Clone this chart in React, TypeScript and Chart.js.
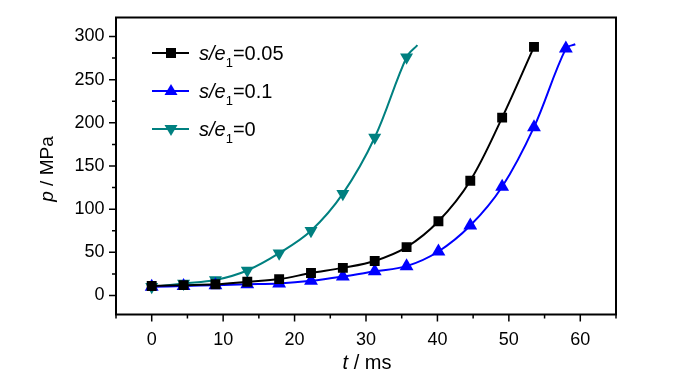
import React, { useEffect, useRef } from 'react';
import { Chart, registerables } from 'chart.js';

Chart.register(...registerables);

// ---- data ----
const timeMs = [0, 4.46, 8.92, 13.38, 17.84, 22.3, 26.76, 31.22, 35.68, 40.14, 44.6, 49.06, 53.52, 57.98];
const pBlack = [11, 12, 13, 16, 19, 26, 32, 40, 56, 86, 133, 206, 288];
const pBlue = [10, 11, 12, 13, 14, 17, 22, 28, 34, 51, 81, 126, 195, 286];
const pTeal = [10, 14, 18, 29, 49, 75, 118, 183, 276];
const blueEnd = [59.3, 291];
const tealEnd = [37.2, 290];
const xTickLabels = [0, 10, 20, 30, 40, 50, 60];
const yTickLabels = [0, 50, 100, 150, 200, 250, 300];
const xMinorTicks = [-5, 0, 5, 10, 15, 20, 25, 30, 35, 40, 45, 50, 55, 60, 65];
const yMinorTicks = [0, 25, 50, 75, 100, 125, 150, 175, 200, 225, 250, 275, 300];
const legendValues = ['0.05', '0.1', '0'];
const seriesColors = ['#000000', '#0000ff', '#008080'];
const seriesMarkers = ['square', 'triangleUp', 'triangleDown'];

const FONT = '"Liberation Sans", Arial, sans-serif';

function toPoints(xs: number[], ys: number[], end?: number[]) {
  const pts = ys.map((y, i) => ({ x: xs[i], y }));
  if (end) pts.push({ x: end[0], y: end[1] });
  return pts;
}

function radii(n: number, r: number, hasEnd: boolean) {
  const arr = new Array(n).fill(r);
  if (hasEnd) arr.push(0);
  return arr;
}

function drawMarker(ctx: CanvasRenderingContext2D, kind: string, x: number, y: number, color: string) {
  ctx.save();
  ctx.fillStyle = color;
  ctx.beginPath();
  if (kind === 'square') {
    ctx.rect(x - 5, y - 5, 10, 10);
  } else if (kind === 'triangleUp') {
    ctx.moveTo(x, y - 7);
    ctx.lineTo(x + 6.5, y + 4);
    ctx.lineTo(x - 6.5, y + 4);
    ctx.closePath();
  } else {
    ctx.moveTo(x, y + 7);
    ctx.lineTo(x + 6.5, y - 4);
    ctx.lineTo(x - 6.5, y - 4);
    ctx.closePath();
  }
  ctx.fill();
  ctx.restore();
}

const decorPlugin = {
  id: 'decor',
  afterDraw(chart: any) {
    const ctx: CanvasRenderingContext2D = chart.ctx;
    const { left, right, top, bottom } = chart.chartArea;
    const xs = chart.scales.x;
    const ys = chart.scales.y;
    ctx.save();
    ctx.strokeStyle = '#000';
    ctx.lineWidth = 2;
    ctx.strokeRect(left, top, right - left, bottom - top);

    // ticks
    ctx.lineWidth = 1.5;
    ctx.beginPath();
    xMinorTicks.forEach((v) => {
      const px = xs.getPixelForValue(v);
      const len = v % 10 === 0 ? 7 : 4;
      ctx.moveTo(px, bottom);
      ctx.lineTo(px, bottom + len);
    });
    yMinorTicks.forEach((v) => {
      const py = ys.getPixelForValue(v);
      const len = v % 50 === 0 ? 7 : 4;
      ctx.moveTo(left, py);
      ctx.lineTo(left - len, py);
    });
    ctx.stroke();

    // axis titles
    ctx.fillStyle = '#000';
    ctx.textBaseline = 'alphabetic';
    // x title
    ctx.font = `italic 20px ${FONT}`;
    const tW = ctx.measureText('t').width;
    ctx.font = `20px ${FONT}`;
    const restX = ' / ms';
    const rW = ctx.measureText(restX).width;
    const xc = 367;
    let sx = xc - (tW + rW) / 2;
    ctx.font = `italic 20px ${FONT}`;
    ctx.fillText('t', sx, 369);
    ctx.font = `20px ${FONT}`;
    ctx.fillText(restX, sx + tW, 369);

    // y title (rotated)
    ctx.save();
    ctx.translate(53, 169);
    ctx.rotate(-Math.PI / 2);
    ctx.font = `italic 19px ${FONT}`;
    const pW = ctx.measureText('p').width;
    ctx.font = `19px ${FONT}`;
    const restY = ' / MPa';
    const ryW = ctx.measureText(restY).width;
    let sy = -(pW + ryW) / 2;
    ctx.font = `italic 19px ${FONT}`;
    ctx.fillText('p', sy, 0);
    ctx.font = `19px ${FONT}`;
    ctx.fillText(restY, sy + pW, 0);
    ctx.restore();

    // legend
    const rows = [53, 91, 129];
    legendValues.forEach((val, i) => {
      const y = rows[i];
      const c = seriesColors[i];
      ctx.strokeStyle = c;
      ctx.lineWidth = 2;
      ctx.beginPath();
      ctx.moveTo(152, y);
      ctx.lineTo(189, y);
      ctx.stroke();
      drawMarker(ctx, seriesMarkers[i], 171, y, c);
      ctx.fillStyle = '#000';
      let tx = 199;
      const base = y + 7;
      ctx.font = `italic 20px ${FONT}`;
      ctx.fillText('s/e', tx, base);
      tx += ctx.measureText('s/e').width;
      ctx.font = `13px ${FONT}`;
      ctx.fillText('1', tx, base + 7);
      tx += ctx.measureText('1').width;
      ctx.font = `20px ${FONT}`;
      ctx.fillText('=' + val, tx, base);
    });
    ctx.restore();
  },
};

export default function App() {
  const ref = useRef<HTMLCanvasElement | null>(null);
  useEffect(() => {
    document.body.style.margin = '0';
    const canvas = ref.current;
    if (!canvas) return;
    const chart = new Chart(canvas, {
      type: 'line',
      data: {
        datasets: [
          {
            label: 's/e1=0.05',
            data: toPoints(timeMs, pBlack),
            borderColor: seriesColors[0],
            backgroundColor: seriesColors[0],
            borderWidth: 2,
            pointStyle: 'rect',
            pointRadius: radii(pBlack.length, 7, false),
            pointBorderWidth: 0,
            tension: 0.35,
          },
          {
            label: 's/e1=0.1',
            data: toPoints(timeMs, pBlue, blueEnd),
            borderColor: seriesColors[1],
            backgroundColor: seriesColors[1],
            borderWidth: 2,
            pointStyle: 'triangle',
            pointRadius: radii(pBlue.length, 8, true),
            pointBorderWidth: 0,
            tension: 0.35,
          },
          {
            label: 's/e1=0',
            data: toPoints(timeMs, pTeal, tealEnd),
            borderColor: seriesColors[2],
            backgroundColor: seriesColors[2],
            borderWidth: 2,
            pointStyle: 'triangle',
            rotation: 180,
            pointRadius: radii(pTeal.length, 7.5, true),
            pointBorderWidth: 0,
            tension: 0.35,
          },
        ],
      },
      options: {
        responsive: false,
        animation: false,
        devicePixelRatio: 1,
        layout: { padding: { left: 0, top: 17.5, right: 84, bottom: 0 } },
        plugins: { legend: { display: false }, tooltip: { enabled: false } },
        scales: {
          x: {
            type: 'linear',
            min: -5,
            max: 65,
            grid: { display: false, drawTicks: true, tickLength: 7 },
            border: { display: false },
            ticks: {
              color: '#000',
              font: { family: FONT, size: 18 },
              padding: 8,
              maxRotation: 0,
            },
            afterBuildTicks: (scale: any) => {
              scale.ticks = xTickLabels.map((v) => ({ value: v }));
            },
            afterFit: (scale: any) => {
              scale.height = 59.5;
            },
          },
          y: {
            type: 'linear',
            min: -22,
            max: 322,
            grid: { display: false, drawTicks: true, tickLength: 7 },
            border: { display: false },
            ticks: {
              color: '#000',
              font: { family: FONT, size: 18 },
              padding: 4.5,
            },
            afterBuildTicks: (scale: any) => {
              scale.ticks = yTickLabels.map((v) => ({ value: v }));
            },
            afterFit: (scale: any) => {
              scale.width = 116;
            },
          },
        },
      } as any,
      plugins: [decorPlugin],
    });
    return () => chart.destroy();
  }, []);
  return (
    <div style={{ position: 'absolute', left: 0, top: 0, width: 700, height: 374, background: '#fff' }}>
      <canvas ref={ref} width={700} height={374} />
    </div>
  );
}
